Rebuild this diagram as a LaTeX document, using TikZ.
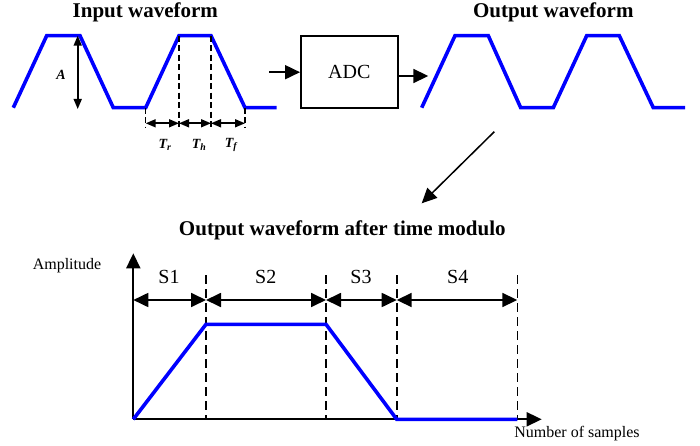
\documentclass[tikz,border=0pt]{standalone}
\usepackage{fontspec}
\setmainfont{Liberation Serif}
\usetikzlibrary{arrows.meta}
\begin{document}
\begin{tikzpicture}[x=1pt,y=-1pt,
  wave/.style={blue, line width=3.6pt, line join=miter, line cap=butt},
  titletext/.style={font=\fontsize{21}{24}\selectfont\bfseries, inner sep=0pt, anchor=base},
  lbl/.style={font=\fontsize{20}{24}\selectfont, inner sep=0pt},
  small/.style={font=\fontsize{16}{19}\selectfont, inner sep=0pt},
  ital/.style={font=\fontsize{14}{17}\selectfont\bfseries\itshape, inner sep=0pt},
  dim/.style={line width=1.6pt, {Triangle[length=10pt,width=8pt]}-{Triangle[length=10pt,width=8pt]}},
  bigdim/.style={line width=1.8pt, {Triangle[length=15pt,width=14pt]}-{Triangle[length=15pt,width=14pt]}},
  arr/.style={line width=1.8pt, -{Triangle[length=15pt,width=14pt]}},
  dsh/.style={line width=1.4pt, dash pattern=on 6pt off 3.5pt},
  bigdsh/.style={line width=1.6pt, dash pattern=on 9pt off 5pt},
  box/.style={draw, line width=1.8pt, minimum width=96.7pt, minimum height=72.3pt, font=\fontsize{20}{24}\selectfont}
]
\useasboundingbox (0,0) rectangle (700,446);

% titles
\node[titletext] (tin) at (145.3,17.3) {Input waveform};
\node[titletext] (tout) at (553.3,17.3) {Output waveform};
\node[titletext] (tmod) at (342.3,235) {Output waveform after time modulo};

% input waveform
\coordinate (i0) at (13.3,107.7);
\coordinate (i1) at (46.7,35.7);
\coordinate (i2) at (80,35.7);
\coordinate (i3) at (113.3,107.7);
\coordinate (i4) at (145.7,107.7);
\coordinate (i5) at (179,35.7);
\coordinate (i6) at (211,35.7);
\coordinate (i7) at (245,107.7);
\coordinate (i8) at (276.7,107.7);
\draw[wave] (i0) -- (i1) -- (i2) -- (i3) -- (i4) -- (i5) -- (i6) -- (i7) -- (i8);

% amplitude A
\coordinate (at) at (77.7,35.7);
\coordinate (ab) at (77.7,109);
\draw[dim] (at) -- (ab);
\node[ital] (alab) at (61,75) {A};

% dashed markers
\coordinate (d1) at (145.7,127);
\coordinate (d2) at (179,127);
\coordinate (d3) at (211,127);
\coordinate (d4) at (245,127);
\draw[dsh] (i4) -- (d1);
\draw[dsh] (i5) -- (d2);
\draw[dsh] (i6) -- (d3);
\draw[dsh] (i7) -- (d4);
\coordinate (t1) at (145.7,123.3);
\coordinate (t2) at (179,123.3);
\coordinate (t3) at (211,123.3);
\coordinate (t4) at (245,123.3);
\draw[dim] (t1) -- (t2);
\draw[dim] (t2) -- (t3);
\draw[dim] (t3) -- (t4);
\node[ital] (tr) at (165,145) {T\textsubscript{r}};
\node[ital] (th) at (199,145) {T\textsubscript{h}};
\node[ital] (tf) at (231,145) {T\textsubscript{f}};

% ADC
\node[box] (adc) at (349.3,72.2) {ADC};
\coordinate (inA) at (269,72.2);
\coordinate (outB) at (428.3,76);
\draw[arr] (inA) -- (adc);
\draw[arr] (adc.east |- outB) -- (outB);

% output waveform
\coordinate (o0) at (421.7,107.7);
\coordinate (o1) at (455,35.7);
\coordinate (o2) at (488.3,35.7);
\coordinate (o3) at (520.7,107.7);
\coordinate (o4) at (553.3,107.7);
\coordinate (o5) at (586.7,35.7);
\coordinate (o6) at (619.3,35.7);
\coordinate (o7) at (653.3,107.7);
\coordinate (o8) at (685,107.7);
\draw[wave] (o0) -- (o1) -- (o2) -- (o3) -- (o4) -- (o5) -- (o6) -- (o7) -- (o8);

% diagonal arrow
\coordinate (dg1) at (494.3,131.7);
\coordinate (dg2) at (421.7,203.3);
\draw[arr, line width=1.5pt] (dg1) -- (dg2);

% bottom chart
\coordinate (org) at (133.3,419.3);
\coordinate (ytop) at (133.3,253.3);
\coordinate (xend) at (541.7,419.3);
\draw[arr] (org) -- (ytop);
\draw[arr] (org) -- (xend);

\coordinate (b1) at (206,419.3);
\coordinate (b2) at (326,419.3);
\coordinate (b3) at (396.7,419.3);
\coordinate (b4) at (517.3,419.3);
\coordinate (u1) at (206,275);
\coordinate (u2) at (326,275);
\coordinate (u3) at (396.7,275);
\coordinate (u4) at (517.3,275);
\draw[bigdsh] (u1) -- (b1);
\draw[bigdsh] (u2) -- (b2);
\draw[bigdsh] (u3) -- (b3);
\draw[bigdsh] (u4) -- (b4);

\coordinate (s0) at (133.3,300);
\coordinate (s1) at (206,300);
\coordinate (s2) at (326,300);
\coordinate (s3) at (396.7,300);
\coordinate (s4) at (517.3,300);
\draw[bigdim] (s0) -- (s1);
\draw[bigdim] (s1) -- (s2);
\draw[bigdim] (s2) -- (s3);
\draw[bigdim] (s3) -- (s4);

\node[lbl, anchor=base] (S1) at (169,283) {S1};
\node[lbl, anchor=base] (S2) at (265.7,283) {S2};
\node[lbl, anchor=base] (S3) at (361,283) {S3};
\node[lbl, anchor=base] (S4) at (457.7,283) {S4};

\coordinate (p1) at (206,324.3);
\coordinate (p2) at (326,324.3);
\draw[wave] (org) -- (p1) -- (p2) -- (b3) -- (b4);

\node[small] (amp) at (67,266) {Amplitude};
\node[small] (nos) at (577,433.5) {Number of samples};
\end{tikzpicture}
\end{document}
